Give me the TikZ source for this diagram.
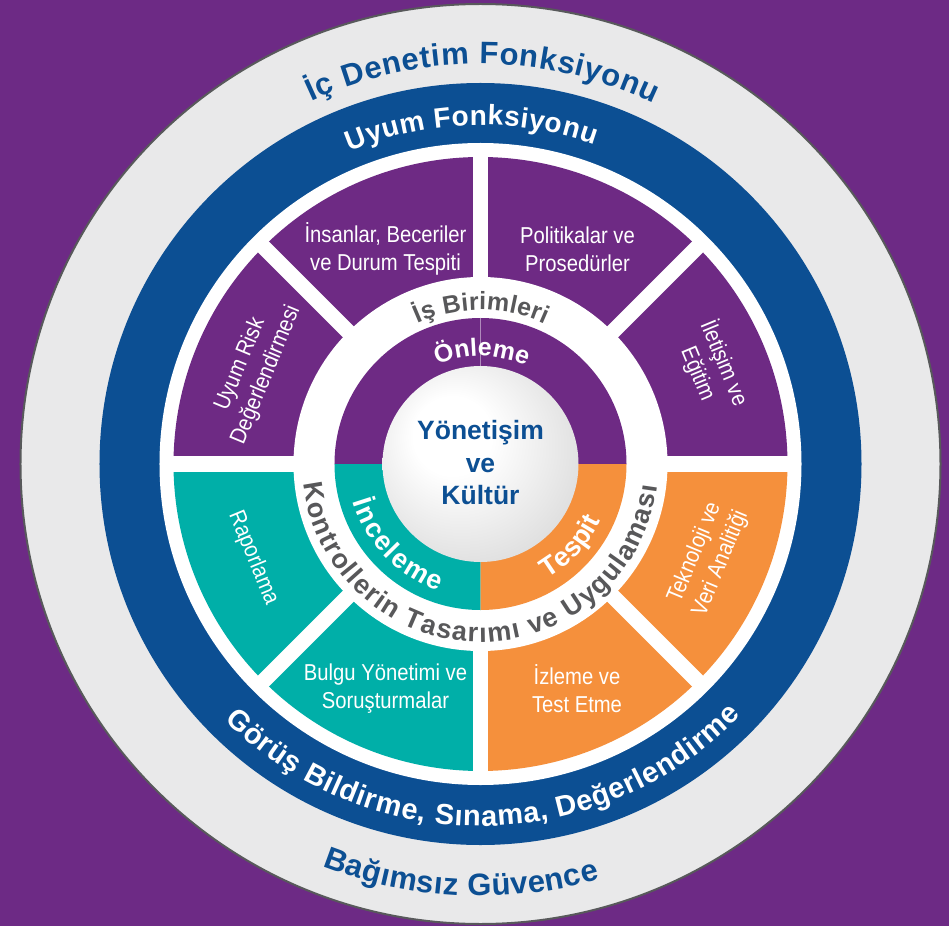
\documentclass[tikz,border=0pt]{standalone}
\usepackage{fontspec}
\setmainfont{Liberation Sans}
\newfontfamily\condf[FakeStretch=0.88]{Liberation Sans}
\usetikzlibrary{decorations.text}
\definecolor{bgpurple}{HTML}{6D2A85}
\definecolor{segpurple}{HTML}{6E2A84}
\definecolor{ringgray}{HTML}{E9E9EA}
\definecolor{edgegray}{HTML}{58595B}
\definecolor{ringblue}{HTML}{0C4F93}
\definecolor{segteal}{HTML}{00AFA8}
\definecolor{segorange}{HTML}{F5903C}
\definecolor{txtgray}{HTML}{58585A}
\definecolor{txtblue}{HTML}{0C4F93}
\pgfdeclareradialshading{orb}{\pgfpoint{-9bp}{9bp}}{color(0bp)=(white); color(10bp)=(white); color(36bp)=(gray!32); color(50bp)=(gray!35)}
\newcommand\fIDF{\fontsize{31pt}{31pt}\selectfont\bfseries}
\newcommand\fUF{\fontsize{28pt}{28pt}\selectfont\bfseries}
\newcommand\fGB{\fontsize{29pt}{29pt}\selectfont\bfseries}
\newcommand\fBG{\fontsize{31pt}{31pt}\selectfont\bfseries}
\newcommand\fIB{\fontsize{25pt}{25pt}\selectfont\bfseries}
\newcommand\fKT{\fontsize{27pt}{27pt}\selectfont\bfseries}
\newcommand\fON{\fontsize{25pt}{25pt}\selectfont\bfseries}
\newcommand\fIN{\fontsize{27pt}{27pt}\selectfont\bfseries}
\tikzset{
  segtext/.style={text=white, font=\condf\fontsize{23pt}{28pt}\selectfont, align=center, inner sep=0pt},
  centertext/.style={text=txtblue, font=\bfseries\fontsize{26.5pt}{32.5pt}\selectfont, align=center, inner sep=0pt},
  gaplinestyle/.style={white, line width=15.5pt},
  arctext/.style={decorate, decoration={text along path, text align=fit to path, text color=#1}}
}
\begin{document}
\begin{tikzpicture}[x=1pt,y=1pt]
\useasboundingbox (-480.5,-462) rectangle (468.5,464);
\fill[bgpurple] (-480.5,-462) rectangle (468.5,464);
\filldraw[fill=ringgray, draw=edgegray, line width=2pt] (0,0) circle[radius=460pt];
\fill[ringblue] (0,0) circle[radius=381pt];
\fill[white] (0,0) circle[radius=321pt];
% outer segments
\foreach \a/\c in {0/segpurple,45/segpurple,90/segpurple,135/segpurple,180/segteal,225/segteal,270/segorange,315/segorange}
  \fill[\c] (0,0) -- (\a:307pt) arc[start angle=\a, delta angle=45, radius=307pt] -- cycle;
\fill[white] (0,0) circle[radius=187pt];
\foreach \a in {0,45,...,315} \draw[gaplinestyle] (\a:180pt) -- (\a:314pt);
% inner ring
\fill[segpurple] (0,0) -- (0:146pt) arc[start angle=0, end angle=180, radius=146pt] -- cycle;
\fill[segteal] (0,0) -- (180:146pt) arc[start angle=180, end angle=270, radius=146pt] -- cycle;
\fill[segorange] (0,0) -- (270:146pt) arc[start angle=270, end angle=360, radius=146pt] -- cycle;
\draw[segpurple!55!white, line width=0.8pt] (90:98pt) -- (90:146pt);
\shade[shading=orb] (0,0) circle[radius=98pt];
% curved texts
\path[arctext=txtblue, decoration={text={|\fIDF|İç Denetim Fonksiyonu}}] (115:400pt) arc[start angle=115, end angle=64.3, radius=400pt];
\path[arctext=white, decoration={text={|\fUF|Uyum Fonksiyonu}}] (112.7:339pt) arc[start angle=112.7, end angle=70.4, radius=339pt];
\path[arctext=white, decoration={text={|\fGB|Görüş Bildirme, Sınama, Değerlendirme}}] (225:362pt) arc[start angle=225, end angle=316, radius=362pt];
\path[arctext=txtblue, decoration={text={|\fBG|Bağımsız Güvence}}] (248.5:432pt) arc[start angle=248.5, end angle=286, radius=432pt];
\path[arctext=txtgray, decoration={text={|\fIB|İş Birimleri}}] (114.2:154pt) arc[start angle=114.2, end angle=65.3, radius=154pt];
\path[arctext=txtgray, decoration={text={|\fKT|Kontrollerin Tasarımı ve Uygulaması}}] (186.4:178pt) arc[start angle=186.4, end angle=352.9, radius=178pt];
\path[arctext=white, decoration={text={|\fON|Önleme}}] (113.6:108pt) arc[start angle=113.6, end angle=67.1, radius=108pt];
\path[arctext=white, decoration={text={|\fIN|İnceleme}}] (196.3:133pt) arc[start angle=196.3, end angle=251.8, radius=133pt];
\path[arctext=white, decoration={text={|\fIN|Tespit}}] (300.4:133pt) arc[start angle=300.4, end angle=334.7, radius=133pt];
% segment texts
\node[segtext] (insan) at (-95,215) {İnsanlar, Beceriler\\ve Durum Tespiti};
\node[segtext] (polit) at (97,215) {Politikalar ve\\Prosedürler};
\node[segtext] (bulgu) at (-95,-224.6) {Bulgu Yönetimi ve\\Soruşturmalar};
\node[segtext] (izle) at (96.5,-224.6) {İzleme ve\\Test Etme};
\node[segtext, rotate=67.5] (risk) at (157.5:246pt) {Uyum Risk\\Değerlendirmesi};
\node[segtext, rotate=-67.5] (ilet) at (22.5:250pt) {İletişim ve\\Eğitim};
\node[segtext, rotate=-67.5] (rapor) at (202.5:246pt) {Raporlama};
\node[segtext, rotate=67.5] (tekno) at (337.5:246pt) {Teknoloji ve\\Veri Analitiği};
\node[centertext] (yk) at (0,1) {Yönetişim\\ve\\Kültür};
\end{tikzpicture}
\end{document}
